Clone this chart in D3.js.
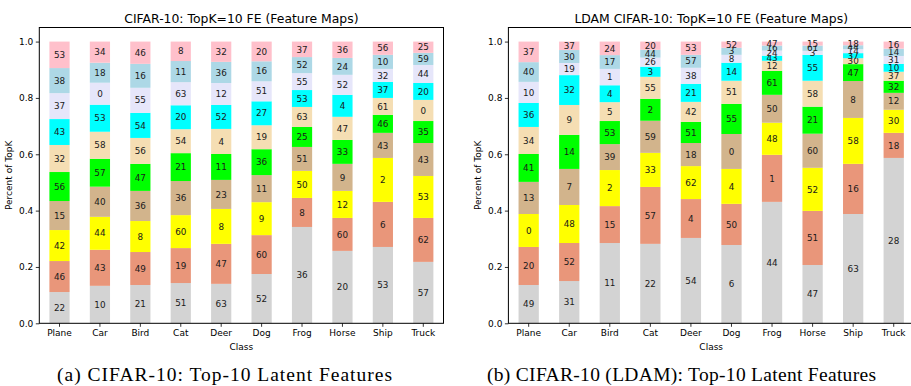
<!DOCTYPE html>
<html>
<head>
<meta charset="utf-8">
<script src="https://cdn.jsdelivr.net/npm/d3@7"></script>
<style>
  body { margin: 0; background: #fff; }
  svg { display: block; }
</style>
</head>
<body>
<svg id="fig" width="911" height="386"></svg>
<script>
// Classes on the x axis
const classes = ["Plane", "Car", "Bird", "Cat", "Deer", "Dog", "Frog", "Horse", "Ship", "Truck"];
const yTicks = [0, 0.2, 0.4, 0.6, 0.8, 1.0];

// Share of each of the top-10 feature maps per class (rank 1 at the bottom)
const baseShares = [
  [.111, .110, .110, .103, .103, .096, .092, .092, .089, .094],
  [.133, .128, .117, .107, .099, .096, .096, .078, .071, .075],
  [.136, .117, .110, .107, .096, .092, .089, .089, .085, .079],
  [.143, .124, .117, .121, .099, .085, .085, .082, .075, .069],
  [.140, .142, .124, .103, .092, .089, .085, .078, .075, .072],
  [.175, .138, .117, .096, .092, .085, .085, .071, .071, .070],
  [.342, .103, .096, .085, .071, .071, .060, .060, .057, .055],
  [.257, .117, .096, .096, .085, .082, .078, .071, .060, .058],
  [.271, .160, .156, .089, .064, .060, .057, .046, .050, .047],
  [.218, .156, .149, .117, .078, .075, .060, .064, .043, .040]
];
// Feature-map index shown inside each segment
const baseFeatures = [
  [22, 46, 42, 15, 56, 32, 43, 37, 38, 53],
  [10, 43, 44, 40, 57, 58, 53, 0, 18, 34],
  [21, 49, 8, 36, 47, 56, 54, 55, 16, 46],
  [51, 19, 60, 36, 21, 54, 20, 63, 11, 8],
  [63, 47, 8, 23, 11, 4, 52, 12, 36, 32],
  [52, 60, 9, 11, 36, 19, 27, 51, 16, 20],
  [36, 8, 50, 51, 25, 63, 53, 55, 52, 37],
  [20, 60, 12, 9, 33, 47, 4, 52, 24, 36],
  [53, 6, 2, 43, 46, 61, 37, 32, 10, 56],
  [57, 62, 53, 43, 35, 0, 20, 44, 59, 25]
];

const ldamShares = [
  [.136, .135, .117, .114, .099, .096, .085, .075, .070, .073],
  [.150, .135, .135, .128, .121, .106, .106, .043, .046, .030],
  [.285, .131, .128, .092, .082, .067, .060, .058, .049, .048],
  [.282, .202, .121, .114, .078, .078, .036, .032, .028, .029],
  [.303, .138, .117, .082, .075, .071, .064, .057, .046, .047],
  [.278, .146, .124, .124, .107, .082, .064, .028, .025, .022],
  [.431, .167, .114, .099, .085, .036, .018, .018, .018, .014],
  [.207, .192, .153, .121, .096, .092, .092, .014, .019, .014],
  [.388, .178, .163, .131, .060, .021, .018, .014, .014, .013],
  [.587, .089, .082, .060, .043, .032, .028, .028, .026, .025]
];
const ldamFeatures = [
  [49, 20, 0, 13, 41, 34, 36, 10, 40, 37],
  [31, 52, 48, 7, 14, 9, 32, 19, 30, 37],
  [11, 15, 2, 39, 53, 5, 4, 1, 17, 24],
  [22, 57, 33, 59, 2, 55, 3, 26, 44, 20],
  [54, 4, 62, 18, 51, 42, 21, 38, 57, 53],
  [6, 50, 4, 0, 55, 51, 14, 8, 3, 52],
  [44, 1, 48, 50, 61, 12, 43, 24, 16, 47],
  [47, 51, 52, 60, 21, 58, 55, 3, 61, 15],
  [63, 16, 58, 8, 47, 30, 37, 14, 44, 18],
  [28, 18, 30, 12, 32, 37, 10, 31, 14, 16]
];

// One colour per rank, bottom to top
const rankColors = ["#d3d3d3", "#e9967a", "#ffff00", "#d2b48c", "#00ff00",
                    "#f5deb3", "#00ffff", "#e6e6fa", "#add8e6", "#ffc0cb"];

const svg = d3.select("#fig");
const FONT = "DejaVu Sans, sans-serif";

function drawPanel(opts) {
  const { left, right, top, bottom, shares, features, title, caption, captionX, captionW } = opts;

  const x = d3.scaleBand().domain(classes).range([left, right])
    .paddingInner(0.5).paddingOuter(0.25);
  const y = d3.scaleLinear().domain([0, 1.05]).range([bottom, top]);

  const g = svg.append("g");

  const rows = shares.map((s, i) => Object.assign({ cls: classes[i] }, s));
  const keys = d3.range(10);
  const stacked = d3.stack().keys(keys).value((d, k) => d[k])(rows);

  stacked.forEach((layer, r) => {
    const lg = g.append("g");
    lg.selectAll("rect").data(layer).join("rect")
      .attr("x", d => x(d.data.cls))
      .attr("width", x.bandwidth())
      .attr("y", d => y(d[1]))
      .attr("height", d => y(d[0]) - y(d[1]))
      .attr("fill", rankColors[r]);
    lg.selectAll("text").data(layer).join("text")
      .attr("x", d => x(d.data.cls) + x.bandwidth() / 2)
      .attr("y", d => (y(d[0]) + y(d[1])) / 2)
      .attr("dy", "0.36em")
      .attr("text-anchor", "middle")
      .attr("font-family", FONT)
      .attr("font-size", 8.8)
      .attr("fill", "#1a1a1a")
      .text((d, i) => features[i][r]);
  });

  // Axes
  const yAxis = d3.axisLeft(y).tickValues(yTicks).tickFormat(d3.format(".1f"))
    .tickSize(3.5).tickPadding(2.5);
  const ya = g.append("g").attr("transform", `translate(${left},0)`).call(yAxis);
  const xAxis = d3.axisBottom(x).tickSize(3.5).tickPadding(2.8);
  const xa = g.append("g").attr("transform", `translate(0,${bottom})`).call(xAxis);
  [ya, xa].forEach(a => {
    a.select(".domain").remove();
    a.selectAll("text").attr("font-family", FONT).attr("font-size", 9).attr("fill", "#000");
    a.selectAll("line").attr("stroke", "#000").attr("stroke-width", 0.8);
  });

  // Frame
  g.append("rect")
    .attr("x", left).attr("y", top)
    .attr("width", right - left).attr("height", bottom - top)
    .attr("fill", "none").attr("stroke", "#000").attr("stroke-width", 1);

  // Labels
  g.append("text")
    .attr("x", (left + right) / 2).attr("y", 22.5)
    .attr("text-anchor", "middle")
    .attr("font-family", FONT).attr("font-size", 12.4)
    .text(title);
  g.append("text")
    .attr("x", (left + right) / 2).attr("y", 350)
    .attr("text-anchor", "middle")
    .attr("font-family", FONT).attr("font-size", 9)
    .text("Class");
  g.append("text")
    .attr("transform", `translate(${left - 27},${(top + bottom) / 2}) rotate(-90)`)
    .attr("text-anchor", "middle")
    .attr("font-family", FONT).attr("font-size", 9)
    .text("Percent of TopK");

  svg.append("text")
    .attr("x", captionX - captionW / 2).attr("y", 381)
    .attr("font-family", "Liberation Serif, Times New Roman, serif")
    .attr("font-size", 19.5)
    .attr("textLength", captionW)
    .attr("lengthAdjust", "spacing")
    .text(caption);
}

drawPanel({
  left: 39.3, right: 443.5, top: 27.5, bottom: 323.3,
  shares: baseShares, features: baseFeatures,
  title: "CIFAR-10: TopK=10 FE (Feature Maps)",
  caption: "(a) CIFAR-10: Top-10 Latent Features", captionX: 224.5, captionW: 335
});
drawPanel({
  left: 508.4, right: 914, top: 27.5, bottom: 323.3,
  shares: ldamShares, features: ldamFeatures,
  title: "LDAM CIFAR-10: TopK=10 FE (Feature Maps)",
  caption: "(b) CIFAR-10 (LDAM): Top-10 Latent Features", captionX: 681.5, captionW: 389
});
</script>
</body>
</html>
